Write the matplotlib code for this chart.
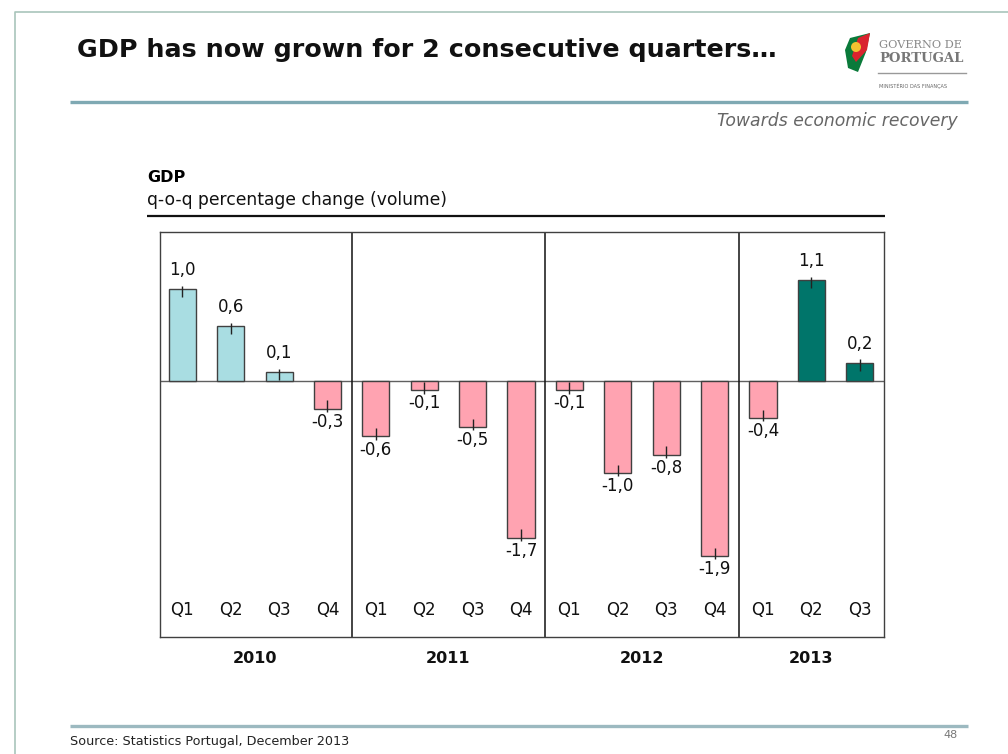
import matplotlib
matplotlib.use("Agg")
import matplotlib.pyplot as plt
from matplotlib.patches import Polygon, Circle

# ---- DATA ----
years = ["2010", "2011", "2012", "2013"]
quarters_per_year = [4, 4, 4, 3]
quarter_labels = ["Q1", "Q2", "Q3", "Q4", "Q1", "Q2", "Q3", "Q4",
                  "Q1", "Q2", "Q3", "Q4", "Q1", "Q2", "Q3"]
gdp_qoq = [1.0, 0.6, 0.1, -0.3, -0.6, -0.1, -0.5, -1.7,
           -0.1, -1.0, -0.8, -1.9, -0.4, 1.1, 0.2]

# ---- STYLE ----
W, H = 1008, 754
light_blue = "#A9DDE2"
pink = "#FFA3B1"
teal = "#00756A"
frame_col = "#404040"
rule_col = "#7FA9B3"

plt.rcParams["font.family"] = ["DejaVu Sans"]

fig = plt.figure(figsize=(W / 100, H / 100), dpi=100)
fig.patch.set_facecolor("white")

# overlay in pixel coordinates for slide decorations
deco = fig.add_axes([0, 0, 1, 1])
deco.set_xlim(0, W)
deco.set_ylim(H, 0)
deco.axis("off")

# slide border
deco.plot([15, 15, W], [H, 12, 12], color="#A9C5BB", lw=1.2)

# title + rule
deco.text(77, 50, "GDP has now grown for 2 consecutive quarters\u2026",
          fontsize=18.3, fontweight="bold", va="center", ha="left", color="#111111")
deco.plot([70, 968], [102, 102], color=rule_col, lw=2.4, solid_capstyle="butt")
deco.text(958, 121, "Towards economic recovery", fontsize=12.4, style="italic",
          ha="right", va="center", color="#666666")

# logo (simplified)
deco.add_patch(Polygon([[850, 38], [870, 33], [866, 52], [858, 72], [848, 68], [845, 50]],
                       closed=True, color="#0A7A3A", lw=0))
deco.add_patch(Polygon([[858, 38], [870, 33], [867, 50], [856, 62], [852, 56]],
                       closed=True, color="#D9232E", lw=0))
deco.add_patch(Circle((856, 47), 5, color="#F2C230", lw=0))
deco.text(879, 45, "GOVERNO DE", fontsize=8.2, family="DejaVu Serif",
          color="#888888", va="center", ha="left")
deco.text(879, 58, "PORTUGAL", fontsize=9.5, family="DejaVu Serif", fontweight="bold",
          color="#777777", va="center", ha="left")
deco.plot([878, 966], [73, 73], color="#999999", lw=1)
deco.text(879, 86, "MINISTÉRIO DAS FINANÇAS", fontsize=3.6, color="#666666",
          va="center", ha="left")

# chart header
deco.text(147, 177, "GDP", fontsize=11.5, fontweight="bold", va="center", ha="left")
deco.text(147, 200, "q-o-q percentage change (volume)", fontsize=12.3,
          va="center", ha="left", color="#111111")
deco.plot([147, 885], [216, 216], color="#111111", lw=1.6, solid_capstyle="butt")

# footer
deco.plot([70, 968], [726, 726], color="#9CB9C0", lw=2.4, solid_capstyle="butt")
deco.text(70, 742, "Source: Statistics Portugal, December 2013", fontsize=9.2,
          va="center", ha="left", color="#222222")
deco.text(958, 735, "48", fontsize=8, va="center", ha="right", color="#777777")

# ---- CHART ----
ax_left, ax_right, ax_top, ax_bot = 160, 884, 232, 637
ax = fig.add_axes([ax_left / W, 1 - ax_bot / H, (ax_right - ax_left) / W, (ax_bot - ax_top) / H])

x = list(range(len(gdp_qoq)))
year_of_bar = []
for yr, n in zip(years, quarters_per_year):
    year_of_bar += [yr] * n

colors = []
for v, yr in zip(gdp_qoq, year_of_bar):
    if v < 0:
        colors.append(pink)
    elif yr == "2013":
        colors.append(teal)
    else:
        colors.append(light_blue)

ax.bar(x, gdp_qoq, width=0.56, color=colors, edgecolor=frame_col, linewidth=1, zorder=3)
ax.axhline(0, color="#606060", lw=1, zorder=2)

# small marker lines at bar ends and value labels
for xi, v in zip(x, gdp_qoq):
    s = 1 if v >= 0 else -1
    ax.vlines(xi, v + s * 0.035, v - s * 0.09, color="#222222", lw=1, zorder=4)
    lbl = f"{v:.1f}".replace(".", ",")
    ax.annotate(lbl, (xi, v), xytext=(0, 7 if s > 0 else -3), textcoords="offset points",
                ha="center", va="bottom" if s > 0 else "top", fontsize=12, color="#111111")

# quarter labels inside the box
for xi, q in zip(x, quarter_labels):
    ax.text(xi, -2.49, q, ha="center", va="center", fontsize=12, color="#111111")

# year separators and year labels
start = 0
for i, (yr, n) in enumerate(zip(years, quarters_per_year)):
    if i > 0:
        ax.axvline(start - 0.5, color="#111111", lw=1.1)
    center = start + (n - 1) / 2
    ax.text(center, -0.054, yr, transform=ax.get_xaxis_transform(), ha="center",
            va="center", fontsize=11.5, fontweight="bold", color="#111111")
    start += n

ax.set_xlim(-0.46, len(gdp_qoq) - 0.5)
ax.set_ylim(-2.78, 1.62)
ax.set_xticks([])
ax.set_yticks([])
for sp in ax.spines.values():
    sp.set_color(frame_col)
    sp.set_linewidth(1)

fig.savefig("out.png", dpi=100, facecolor="white")
